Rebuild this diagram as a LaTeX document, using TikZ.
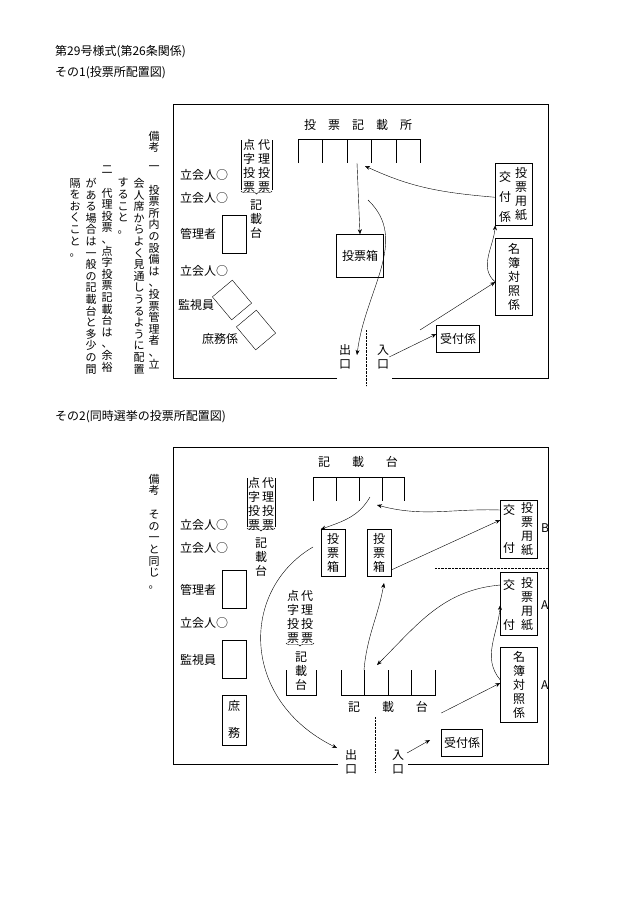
\documentclass[tikz,border=0pt]{standalone}
\usepackage{fontspec}
\setmainfont{Noto Sans CJK JP}
\usetikzlibrary{arrows.meta,decorations.pathreplacing}
% stack the characters of a word one under another
\def\vchars#1{#1\vnextchar}
\def\vnextchar#1{\ifx#1\relax\else\\#1\expandafter\vnextchar\fi}
\newcommand\vstack[1]{\vchars#1\relax}
\tikzset{
  lbl/.style={inner sep=0pt,font=\fontsize{12}{14}\selectfont},
  vlbl/.style={lbl,align=center},
  note/.style={inner sep=0pt,anchor=north,align=center,font=\fontsize{11}{11.6}\selectfont},
  desk/.style={draw,thin},
  arr/.style={-{Stealth[length=5pt,width=4pt]},thin},
  brk/.style={decorate,decoration={brace,amplitude=3pt,mirror}}
}
\begin{document}
\begin{tikzpicture}[x=1pt,y=-1pt]
\useasboundingbox (0,0) rectangle (630,915);
\node[lbl,anchor=west] (t1) at (55,52) {第29号様式(第26条関係)};
\node[lbl,anchor=west] (t2) at (55,73) {その1(投票所配置図)};
\node[lbl,anchor=west] (t3) at (55,417) {その2(同時選挙の投票所配置図)};

% ---- その1 ----
\draw (337,378) -- (173,378) -- (173,104) -- (548,104) -- (548,378) -- (392,378);
\draw[densely dotted] (366,330) -- (366,386);
\node[note] (n1a) at (154,131) {\vstack{備考}};
\node[note] (n1b) at (154,166) {\vstack{一　投票所内の設備は、投票管理者、立}};
\node[note] (n1c) at (139,178) {\vstack{会人席からよく見通しうるように配置}};
\node[note] (n1d) at (123,178) {\vstack{すること。}};
\node[note] (n1e) at (107,166) {\vstack{二　代理投票、点字投票記載台は、余裕}};
\node[note] (n1f) at (91,178) {\vstack{がある場合は一般の記載台と多少の間}};
\node[note] (n1g) at (75,178) {\vstack{隔をおくこと。}};

\node[lbl] (k1) at (358,125) {投\hspace{12pt}票\hspace{12pt}記\hspace{12pt}載\hspace{12pt}所};
\draw (298,163) -- (298,139) -- (420,139) -- (420,163);
\foreach \x in {322,347,371,396} \draw (\x,139) -- (\x,163);
\coordinate (b1) at (357,163);

\foreach \y/\n in {175/w1,198/w2,271/w3} \node[lbl,anchor=west] (\n) at (180,\y) {立会人○};
\node[lbl,anchor=west] (m1) at (180,234) {管理者};
\draw[desk] (222,215) rectangle (246,253);
\node[lbl,anchor=west] (s1) at (178,305) {監視員};
\draw[desk,rotate around={40:(232,300)}] (219,285) rectangle (245,315);
\node[lbl,anchor=west] (s2) at (202,339) {庶務係};
\draw[desk,rotate around={40:(256,330)}] (243,315) rectangle (269,345);
\node[vlbl] (d1) at (249,166) {\vstack{点字投票}};
\node[vlbl] (d2) at (264,166) {\vstack{代理投票}};
\draw (241,140) -- (241,190) (272,140) -- (272,190);
\draw[brk] (241,191) -- (272,191);
\node[vlbl] (d3) at (256,219) {\vstack{記載台}};

\node[lbl,draw,minimum width=47pt,minimum height=43pt] (h1) at (360,256) {投票箱};
\node[draw,minimum width=37pt,minimum height=62pt] (f1) at (514,194) {};
\node[vlbl,font=\fontsize{12}{20}\selectfont] at (505,197) {\vstack{交付係}};
\node[vlbl] at (521,194) {\vstack{投票用紙}};
\node[vlbl,draw,minimum width=37pt,minimum height=77pt] (r1) at (514,277) {\vstack{名簿対照係}};
\node[lbl,draw,minimum width=43pt,minimum height=27pt] (u1) at (458,339) {受付係};
\node[vlbl] (o1) at (345,357) {\vstack{出口}};
\node[vlbl] (i1) at (383,357) {\vstack{入口}};

\draw[arr] (b1) -- (h1.north);
\draw[arr] (f1.190) to[out=175,in=-25] (365,166);
\draw[arr] (r1.west |- 0,282) to[out=140,in=-95] (f1.south west);
\draw[arr] (i1.east) -- (u1.west |- 0,334);
\draw[arr] (420,330) -- (r1.west |- 0,282);
\draw[arr] (368,200) .. controls (410,240) and (365,290) .. (357,355);

% ---- その2 ----
\draw (338,764) -- (173,764) -- (173,447) -- (548,447) -- (548,764) -- (408,764);
\draw[densely dotted] (375,717) -- (375,772);
\draw[densely dotted] (435,568) -- (548,568);
\node[note] (n2a) at (154,474) {\vstack{備考}};
\node[note] (n2b) at (154,510) {\vstack{その一と同じ。}};

\node[lbl] (k2) at (358,462) {記\hspace{22pt}載\hspace{22pt}台};
\draw (313,501) -- (313,477) -- (404,477) -- (404,501);
\foreach \x in {336,359,382} \draw (\x,477) -- (\x,501);
\draw (341,670) -- (341,695) -- (435,695) -- (435,670);
\foreach \x in {364,388,411} \draw (\x,670) -- (\x,695);
\node[lbl] (k3) at (388,707) {記\hspace{22pt}載\hspace{22pt}台};

\foreach \y/\n in {525/w4,548/w5,623/w6} \node[lbl,anchor=west] (\n) at (180,\y) {立会人○};
\node[lbl,anchor=west] (m2) at (180,590) {管理者};
\draw[desk] (222,570) rectangle (246,608);
\node[lbl,anchor=west] (s3) at (180,660) {監視員};
\draw[desk] (222,640) rectangle (246,678);
\node[draw,minimum width=24pt,minimum height=50pt] (s4) at (234,720) {};
\node[lbl] at (234,706) {庶};
\node[lbl] at (234,733) {務};

\node[vlbl] (d4) at (254,504) {\vstack{点字投票}};
\node[vlbl] (d5) at (268,504) {\vstack{代理投票}};
\draw (247,478) -- (247,527) (275,478) -- (275,527);
\draw[brk] (247,528) -- (275,528);
\node[vlbl] (d6) at (261,557) {\vstack{記載台}};
\node[vlbl] (d7) at (293,617) {\vstack{点字投票}};
\node[vlbl] (d8) at (307,617) {\vstack{代理投票}};
\draw[brk] (286,643) -- (314,643);
\node[vlbl] (d9) at (301,671) {\vstack{記載台}};
\draw (286,670) -- (286,695) -- (316,695) -- (316,670);

\node[vlbl,draw,minimum width=24pt,minimum height=47pt] (h2) at (333,553) {\vstack{投票箱}};
\node[vlbl,draw,minimum width=24pt,minimum height=47pt] (h3) at (379,553) {\vstack{投票箱}};
\node[draw,minimum width=37pt,minimum height=58pt] (f2) at (519,529) {};
\node[lbl] at (509,510) {交}; \node[lbl] at (509,548) {付};
\node[vlbl] at (527,529) {\vstack{投票用紙}};
\node[lbl,anchor=west] (bb) at (541,528) {B};
\node[draw,minimum width=37pt,minimum height=63pt] (f3) at (519,604) {};
\node[lbl] at (509,585) {交}; \node[lbl] at (509,625) {付};
\node[vlbl] at (527,604) {\vstack{投票用紙}};
\node[lbl,anchor=west] (aa1) at (541,605) {A};
\node[vlbl,draw,minimum width=37pt,minimum height=75pt] (r2) at (519,685) {\vstack{名簿対照係}};
\node[lbl,anchor=west] (aa2) at (541,685) {A};
\node[lbl,draw,minimum width=41pt,minimum height=27pt] (u2) at (462,743) {受付係};
\node[vlbl] (o2) at (351,762) {\vstack{出口}};
\node[vlbl] (i2) at (398,762) {\vstack{入口}};

\draw[arr] (370,497) to[out=-120,in=20] (h2.north west);
\draw[arr] (f2.west |- 0,510) to[out=178,in=-15] (377,505);
\draw[arr] (h3.south east |- 0,570) -- (f2.west |- 0,520);
\draw[arr] (364,670) to[out=85,in=-100] (384,583);
\draw[arr] (f3.west |- 0,585) to[out=185,in=45] (377,665);
\draw[arr] (r2.west |- 0,680) to[out=130,in=-95] (f3.south west |- 0,605);
\draw[arr] (u2.north west |- 0,713) -- (r2.west |- 0,683);
\draw[arr] (407,753) -- (430,740);
\draw[arr] (313,547) .. controls (240,590) and (240,700) .. (337,748);
\end{tikzpicture}
\end{document}
